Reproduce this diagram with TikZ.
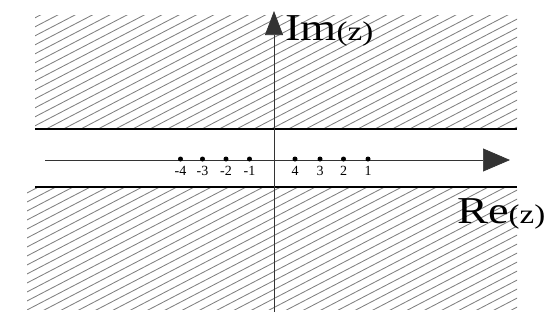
\documentclass[tikz,border=0pt]{standalone}
\usepackage{fontspec}
\setmainfont{Liberation Serif}
\usetikzlibrary{arrows.meta}
\begin{document}
\begin{tikzpicture}[x=1pt,y=-1pt,
  hatch/.style={draw=black!50,line width=0.85pt},
  border/.style={draw=black,line width=1.3pt},
  axis/.style={draw=black!80,line width=0.7pt},
  dot/.style={circle,fill=black,inner sep=0pt,minimum size=5pt},
  tick/.style={inner sep=0pt,font=\fontsize{14}{14}\selectfont},
  biglabel/.style={inner sep=0pt,anchor=base west,xscale=1.22}]
\useasboundingbox (0,0) rectangle (544,325);
% hatched half-planes
\begin{scope}
  \clip (35,15) rectangle (517,129);
  \foreach \c in {0,9,...,630} \draw[hatch] (0,\c) -- (544,{\c-282.9});
\end{scope}
\begin{scope}
  \clip (27,187) rectangle (517,309);
  \foreach \c in {0,9,...,630} \draw[hatch] (0,\c) -- (544,{\c-282.9});
\end{scope}
% boundary lines
\coordinate (ul) at (35,129); \coordinate (ur) at (517,129);
\coordinate (ll) at (35,187); \coordinate (lr) at (517,187);
\draw[border] (ul) -- (ur);
\draw[border] (ll) -- (lr);
% axes
\coordinate (xs) at (45,160); \coordinate (xe) at (510,160);
\coordinate (ys) at (274,312); \coordinate (ye) at (274,11);
\draw[axis,-{Triangle[length=27pt,width=23pt]}] (xs) -- (xe);
\draw[axis,-{Triangle[length=24pt,width=18pt]}] (ys) -- (ye);
% points
\foreach \x/\n/\t in {180.5/m4/-4,202.5/m3/-3,226/m2/-2,249.5/m1/-1,295/p4/4,320/p3/3,343.5/p2/2,368/p1/1}{
  \node[dot] (\n) at (\x,159) {};
  \node[tick,anchor=north] (l\n) at (\x,166) {\t};
}
% labels
\node[biglabel] (im) at (285,40) {\fontsize{38}{38}\selectfont Im\fontsize{27}{27}\selectfont(z)};
\node[biglabel] (re) at (457,223) {\fontsize{38}{38}\selectfont Re\fontsize{27}{27}\selectfont(z)};
\end{tikzpicture}
\end{document}
